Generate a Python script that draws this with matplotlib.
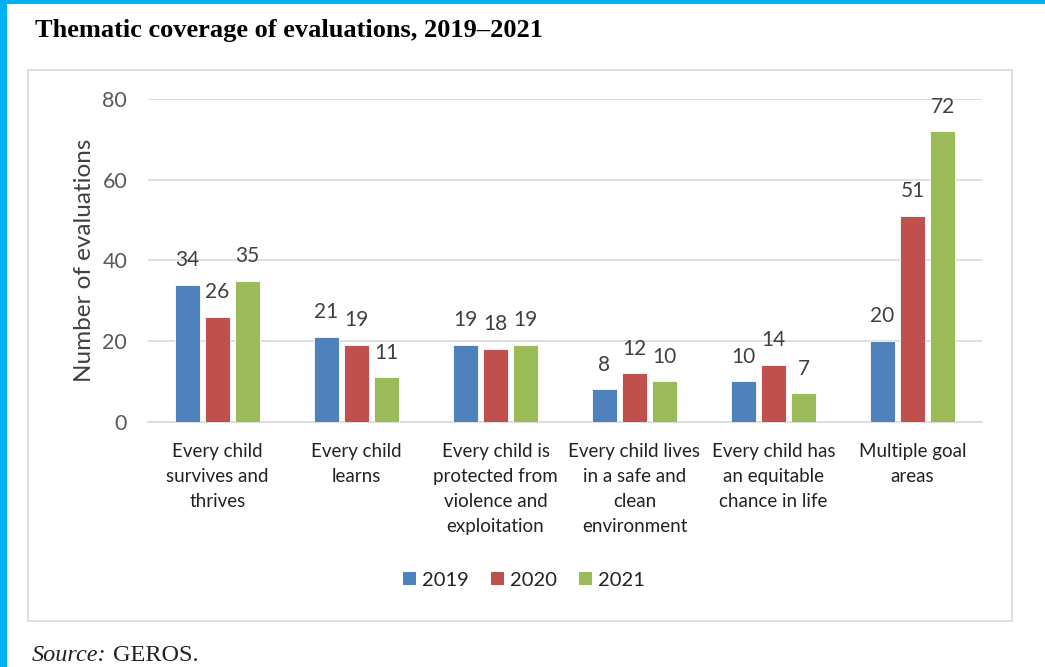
import numpy as np
import matplotlib.pyplot as plt
from matplotlib.patches import Rectangle, Patch

categories = ["Every child\nsurvives and\nthrives",
              "Every child\nlearns",
              "Every child is\nprotected from\nviolence and\nexploitation",
              "Every child lives\nin a safe and\nclean\nenvironment",
              "Every child has\nan equitable\nchance in life",
              "Multiple goal\nareas"]
years = ["2019", "2020", "2021"]
v2019 = [34, 21, 19, 8, 10, 20]
v2020 = [26, 19, 18, 12, 14, 51]
v2021 = [35, 11, 19, 10, 7, 72]
colors = ["#4F81BD", "#C0504D", "#9BBB59"]

fig = plt.figure(figsize=(10.45, 6.67), dpi=100)

# cyan frame on left and top
fig.add_artist(Rectangle((0, 0), 7 / 1045, 1, transform=fig.transFigure,
                         facecolor="#00B0F0", edgecolor="none"))
fig.add_artist(Rectangle((0, 1 - 4 / 667), 1, 4 / 667, transform=fig.transFigure,
                         facecolor="#00B0F0", edgecolor="none"))
# chart box
fig.add_artist(Rectangle((28 / 1045, 1 - 621 / 667), 984 / 1045, 551 / 667,
                         transform=fig.transFigure, facecolor="none",
                         edgecolor="#D9D9D9", lw=1.2))

fig.text(35 / 1045, 1 - 37 / 667, "Thematic coverage of evaluations, 2019\u20132021",
         family="Liberation Serif", weight="bold", fontsize=19, va="baseline")
fig.text(32 / 1045, 1 - 661 / 667, "Source:", family="Liberation Serif",
         style="italic", fontsize=17.5, va="baseline", color="#222222")
fig.text(113 / 1045, 1 - 661 / 667, "GEROS.", family="Liberation Serif",
         fontsize=17.5, va="baseline", color="#222222")

ax = fig.add_axes([148 / 1045, 1 - 421.7 / 667, 834 / 1045, 322.7 / 667])
x = np.arange(len(categories))
w = 0.18
off = 0.216
for i, (vals, c) in enumerate(zip([v2019, v2020, v2021], colors)):
    bars = ax.bar(x + (i - 1) * off, vals, w, color=c, edgecolor="white",
                  lw=0.6, zorder=3, label=years[i])
    for b, v in zip(bars, vals):
        ax.annotate(str(v), (b.get_x() + b.get_width() / 2, v),
                    xytext=(0, 13.5), textcoords="offset points",
                    ha="center", va="baseline", fontsize=15,
                    family="Lato", color="#404040")

ax.set_xlim(-0.5, len(categories) - 0.5)
ax.set_ylim(0, 80)
ax.set_yticks([0, 20, 40, 60, 80])
ax.grid(axis="y", color="#D9D9D9", lw=1.2, zorder=0)
for s in ["top", "right", "left"]:
    ax.spines[s].set_visible(False)
ax.spines["bottom"].set_color("#D9D9D9")
ax.spines["bottom"].set_linewidth(1.2)
ax.tick_params(axis="both", length=0)
ax.tick_params(axis="y", pad=15, labelsize=15.5, labelcolor="#595959")
ax.tick_params(axis="x", pad=15)
ax.set_xticks(x)
ax.set_xticklabels(categories, fontsize=13.5, family="Lato", color="#222222",
                   linespacing=1.58, va="top")
for t in ax.get_yticklabels():
    t.set_family("Lato")
ax.set_ylabel("Number of evaluations", fontsize=17.5, family="Lato",
              color="#404040", va="center")
ax.yaxis.set_label_coords(-0.076, 0.5)

handles = [Patch(facecolor=c, label=y) for c, y in zip(colors, years)]
fig.legend(handles=handles, loc="center", bbox_to_anchor=(524 / 1045, 1 - 580 / 667),
           ncol=3, frameon=False, prop={"family": "Lato", "size": 14.5},
           handlelength=0.65, handleheight=0.65, handletextpad=0.3,
           columnspacing=1.1, labelcolor="#222222")

fig.savefig("out.png", dpi=100)
